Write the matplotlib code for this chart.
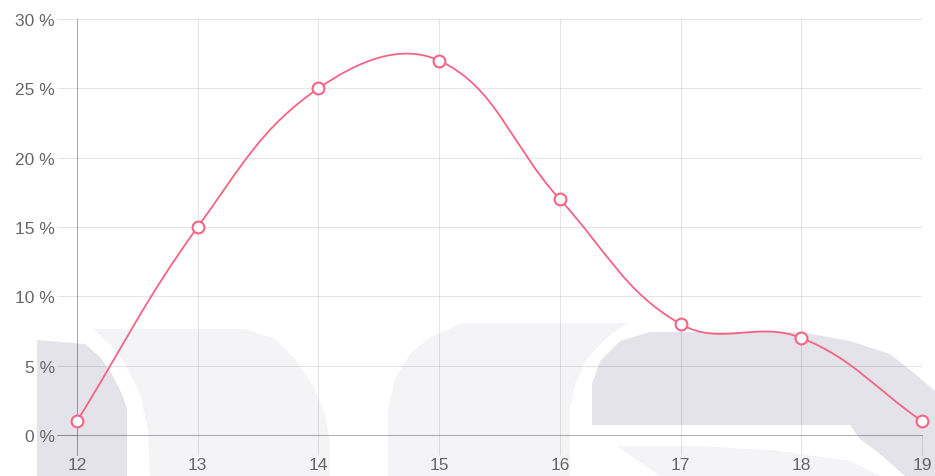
import numpy as np
import matplotlib
matplotlib.use("Agg")
import matplotlib.pyplot as plt
from matplotlib.path import Path
from matplotlib.patches import PathPatch, Polygon

# data
ages = [12, 13, 14, 15, 16, 17, 18, 19]
share = [1, 15, 25, 27, 17, 8, 7, 1]
y_ticks = [0, 5, 10, 15, 20, 25, 30]
y_labels = [f"{v} %" for v in y_ticks]

LINE = (0.97, 0.39, 0.52)
TXT = "#666666"

plt.rcParams['font.family'] = ['Liberation Sans', 'DejaVu Sans']

W, H = 935, 477
fig = plt.figure(figsize=(W / 100, H / 100), dpi=100)

# washed-out background picture behind the chart (pixel coords)
bg = fig.add_axes([0, 0, 1, 1])
bg.set_xlim(0, W)
bg.set_ylim(H, 0)
bg.axis("off")
dark = "#e4e3e9"
light = "#f4f4f7"
shapes = [
    (light, [(93, 330), (245, 330), (275, 340), (295, 360), (312, 385), (325, 415),
             (330, 445), (330, 477), (150, 477), (148, 430), (140, 395), (125, 365), (110, 345)]),
    (dark, [(37, 341), (85, 345), (100, 358), (112, 375), (122, 395), (127, 410),
            (127, 477), (37, 477)]),
    (light, [(463, 324), (627, 324), (605, 340), (587, 360), (575, 385), (570, 410),
             (570, 477), (388, 477), (388, 410), (395, 380), (410, 355), (430, 338)]),
    (dark, [(592, 426), (592, 385), (600, 362), (620, 342), (650, 333), (800, 333),
            (850, 342), (890, 355), (915, 375), (935, 392), (935, 477), (905, 477),
            (880, 455), (860, 440), (850, 426)]),
    (light, [(617, 447), (700, 447), (780, 452), (850, 462), (880, 477), (660, 477)]),
]
for col, pts in shapes:
    bg.add_patch(Polygon(pts, closed=True, facecolor=col, edgecolor="none"))

left, right, top, bottom = 77, 922, 20, 436
ax = fig.add_axes([left / W, (H - bottom) / H, (right - left) / W, (bottom - top) / H])
ax.set_zorder(1)
ax.patch.set_alpha(0)
ax.set_xlim(12, 19)
ax.set_ylim(0, 30)
for s in ax.spines.values():
    s.set_visible(False)

ax.set_xticks(ages)
ax.set_yticks(y_ticks)
ax.set_yticklabels(y_labels)
ax.grid(True, color="black", alpha=0.1, linewidth=0.75)
ax.tick_params(length=14.4, width=0.75, color=(0, 0, 0, 0.1), labelcolor=TXT,
               labelsize=12.5, pad=1.5)

# darker zero lines, including their tick part
ax.axvline(12, ymin=-20 / (bottom - top), ymax=1, color="black", alpha=0.25,
           lw=0.75, clip_on=False)
ax.axhline(0, xmin=-20 / (right - left), xmax=1, color="black", alpha=0.3,
           lw=0.75, clip_on=False)

# Chart.js style bezier (tension 0.4) computed in display space
tension = 0.4
pts = ax.transData.transform(np.column_stack([ages, share]))
n = len(pts)
verts = [pts[0]]
codes = [Path.MOVETO]
ctrl_prev, ctrl_next = [], []
for i in range(n):
    p0 = pts[max(i - 1, 0)]
    p1 = pts[i]
    p2 = pts[min(i + 1, n - 1)]
    d01 = np.hypot(*(p1 - p0))
    d12 = np.hypot(*(p2 - p1))
    tot = d01 + d12
    s01 = d01 / tot if tot else 0
    s12 = d12 / tot if tot else 0
    ctrl_prev.append(p1 - tension * s01 * (p2 - p0))
    ctrl_next.append(p1 + tension * s12 * (p2 - p0))
for i in range(1, n):
    verts += [ctrl_next[i - 1], ctrl_prev[i], pts[i]]
    codes += [Path.CURVE4] * 3
inv = ax.transData.inverted()
path = Path(inv.transform(np.array(verts)), codes)
ax.add_patch(PathPatch(path, facecolor="none", edgecolor=LINE, lw=1.3,
                       clip_on=False, zorder=3))

ax.plot(ages, share, linestyle="none", marker="o", markersize=8.5,
        markerfacecolor="white", markeredgecolor=LINE, markeredgewidth=1.5,
        clip_on=False, zorder=4)

fig.savefig("out.png", dpi=100)
